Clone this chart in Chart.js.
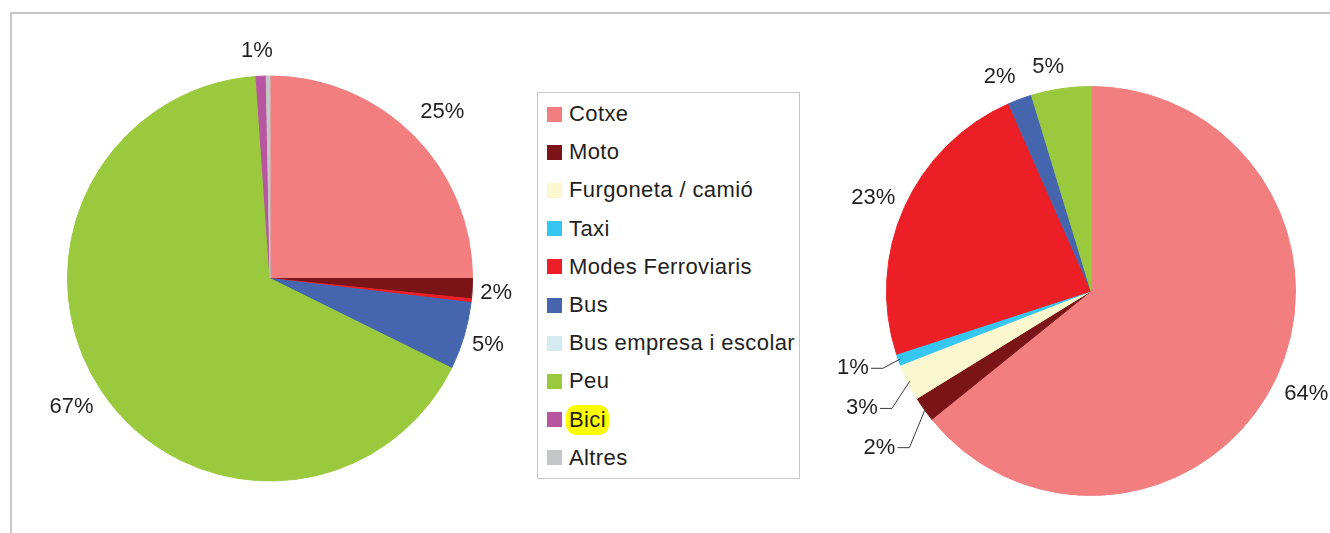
<!DOCTYPE html>
<html><head><meta charset="utf-8">
<script src="https://cdn.jsdelivr.net/npm/chart.js@4/dist/chart.umd.min.js"></script>
<style>
html,body{margin:0;padding:0;background:#fff;width:1330px;height:533px;overflow:hidden;position:relative;font-family:"Liberation Sans",Arial,sans-serif;color:#231f20;}
#frame{position:absolute;left:10px;top:12px;width:1400px;height:600px;border-top:2px solid #c8c8c8;border-left:2px solid #c8c8c8;}
#c1{position:absolute;left:0;top:0;}
#c2{position:absolute;left:800px;top:0;}
#legend{position:absolute;left:537px;top:92px;width:261px;height:385px;border:1px solid #c8c8c8;background:#fff;}
.item{position:absolute;left:0;height:30px;display:flex;align-items:center;font-size:22px;letter-spacing:0.4px;white-space:nowrap;}
.sw{width:15px;height:15px;margin-left:9px;margin-right:7px;flex:none;}
.hl{background:#ffff00;border-radius:10px;padding:2px 3px;margin-left:-3px;}
</style>
</head><body>
<div id="frame"></div>
<canvas id="c1" width="540" height="533"></canvas>
<div id="legend"></div>
<canvas id="c2" width="530" height="533"></canvas>
<script>
const categories = ["Cotxe","Moto","Furgoneta / camió","Taxi","Modes Ferroviaris","Bus","Bus empresa i escolar","Peu","Bici","Altres"];
const colors = ["#F37E7F","#7A1417","#FBF8D0","#36C6F2","#EC1F26","#4566AE","#D3EBF1","#9AC93D","#B855A0","#C5C6C8"];
const leftValues  = [25.0, 1.6, 0, 0, 0.3, 5.4, 0, 66.6, 0.8, 0.3];
const rightValues = [64.2, 2.0, 2.9, 0.9, 23.4, 1.9, 0, 4.7, 0, 0];
const highlighted = ["Bici"];

// legend (HTML, built from the arrays)
const lg = document.getElementById('legend');
categories.forEach((c, i) => {
  const d = document.createElement('div');
  d.className = 'item';
  d.style.top = (21 + i * 38.2 - 15) + 'px';
  const sw = document.createElement('span');
  sw.className = 'sw'; sw.style.background = colors[i];
  const t = document.createElement('span');
  t.textContent = c;
  if (highlighted.includes(c)) t.className = 'hl';
  d.appendChild(sw); d.appendChild(t);
  lg.appendChild(d);
});

const labelPlugin = {
  id: 'pctLabels',
  afterDatasetsDraw(chart, args, opts) {
    const ctx = chart.ctx;
    const meta = chart.getDatasetMeta(0);
    const vals = chart.data.datasets[0].data;
    const total = vals.reduce((a, b) => a + b, 0);
    ctx.save();
    ctx.font = '22px "Liberation Sans", Arial, sans-serif';
    ctx.fillStyle = '#231f20';
    ctx.textBaseline = 'middle';
    meta.data.forEach((arc, i) => {
      const pct = vals[i] / total * 100;
      if (pct < 0.5) return;
      const txt = Math.round(pct) + '%';
      const p = arc.getProps(['x','y','startAngle','endAngle','outerRadius'], true);
      const mid = (p.startAngle + p.endAngle) / 2;
      const cx = Math.cos(mid), sy = Math.sin(mid);
      const w = ctx.measureText(txt).width, h = 22;
      const leader = opts.leaders && opts.leaders[i];
      if (leader) {
        const ex = p.x + cx * (p.outerRadius - 2), ey = p.y + sy * (p.outerRadius - 2);
        const tx = ex + leader[0], ty = ey + leader[1];
        ctx.strokeStyle = '#3a3a3a'; ctx.lineWidth = 1;
        ctx.beginPath(); ctx.moveTo(ex, ey); ctx.lineTo(tx + 14, ty); ctx.lineTo(tx + 2, ty); ctx.stroke();
        ctx.textAlign = 'right'; ctx.fillText(txt, tx, ty);
      } else {
        const g = opts.gap;
        const n = (opts.nudges && opts.nudges[i]) || [0, 0];
        const px = p.x + cx * (p.outerRadius + g) + cx * w / 2 + n[0];
        const py = p.y + sy * (p.outerRadius + g) + sy * h / 2 + n[1];
        ctx.textAlign = 'center'; ctx.fillText(txt, px, py);
      }
    });
    ctx.restore();
  }
};

function makePie(id, values, padding, labelOpts) {
  return new Chart(document.getElementById(id), {
    type: 'pie',
    data: {
      labels: categories,
      datasets: [{ data: values, backgroundColor: colors, borderColor: colors, borderWidth: 1 }]
    },
    options: {
      responsive: false,
      animation: false,
      events: [],
      layout: { padding: padding },
      plugins: { legend: { display: false }, tooltip: { enabled: false }, pctLabels: labelOpts }
    },
    plugins: [labelPlugin]
  });
}

makePie('c1', leftValues, { left: 67, top: 75, right: 67, bottom: 51 },
  { gap: 12, nudges: { 0: [5, -7], 1: [-4, 3], 5: [-3, 2], 7: [-2, 3], 8: [-3, -2] } });
makePie('c2', rightValues, { left: 86, top: 86, right: 34, bottom: 37 },
  { gap: 12, nudges: { 0: [0, 4.5], 5: [-10.5, -1], 7: [-8.7, 0.5] },
    leaders: { 1: [-30.3, 39.7], 2: [-31.8, 27.2], 3: [-31.4, 9.3] } });
</script>
</body></html>
